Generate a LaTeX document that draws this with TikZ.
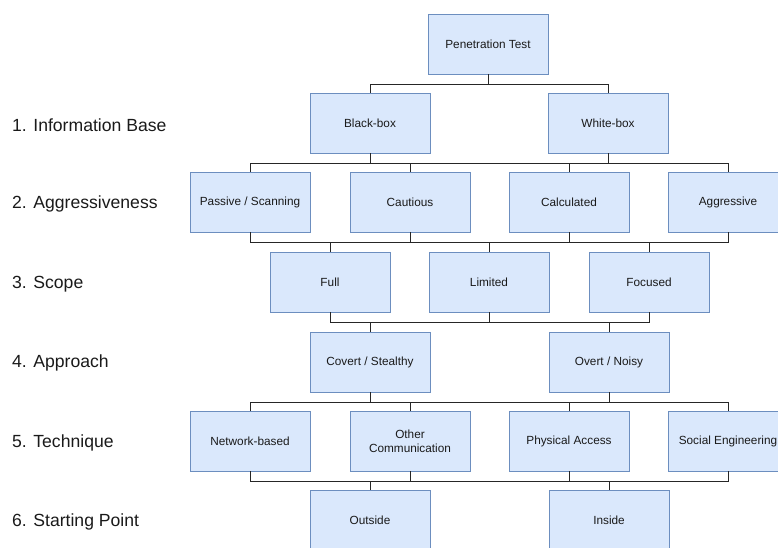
\documentclass[tikz,border=0pt]{standalone}
\usepackage{fontspec}
\setmainfont{Liberation Sans}
\definecolor{ptfill}{RGB}{218,232,252}
\definecolor{ptline}{RGB}{108,142,191}
\definecolor{pttext}{RGB}{26,26,26}

\tikzset{
  ptbox/.style={draw=ptline,fill=ptfill,line width=0.9pt,minimum width=120pt,
    minimum height=60pt,inner sep=0pt,align=center,text=pttext,
    font=\fontsize{11.8}{14}\selectfont},
  ptlevel/.style={anchor=west,text=pttext,inner sep=0pt,font=\fontsize{17.6}{20}\selectfont},
  ptlink/.style={draw=black!85,line width=0.8pt}
}

\begin{document}
\begin{tikzpicture}[x=1pt,y=1pt]
  \useasboundingbox (0,0) rectangle (778,547);
  % levels
  \node[ptlevel] (lv1) at (12,422) {1. Information Base};
  \node[ptlevel] (lv2) at (12,343) {2. Aggressiveness};
  \node[ptlevel] (lv3) at (12,263) {3. Scope};
  \node[ptlevel] (lv4) at (12,184) {4. Approach};
  \node[ptlevel] (lv5) at (12,104) {5. Technique};
  \node[ptlevel] (lv6) at (12,25) {6. Starting Point};
  % boxes
  \node[ptbox] (pt) at (488,503) {Penetration Test};
  \node[ptbox] (black) at (370,424) {Black-box};
  \node[ptbox] (white) at (608,424) {White-box};
  \node[ptbox] (passive) at (250,345) {Passive / Scanning};
  \node[ptbox] (cautious) at (410,345) {Cautious};
  \node[ptbox] (calc) at (569,345) {Calculated};
  \node[ptbox] (aggr) at (728,345) {Aggressive};
  \node[ptbox] (full) at (330,265) {Full};
  \node[ptbox] (limited) at (489,265) {Limited};
  \node[ptbox] (focused) at (649,265) {Focused};
  \node[ptbox] (covert) at (370,185) {Covert / Stealthy};
  \node[ptbox] (overt) at (609,185) {Overt / Noisy};
  \node[ptbox] (network) at (250,106) {Network-based};
  \node[ptbox] (other) at (410,106) {Other\\Communication};
  \node[ptbox] (physical) at (569,106) {Physical Access};
  \node[ptbox] (social) at (728,106) {Social Engineering};
  \node[ptbox] (outside) at (370,27) {Outside};
  \node[ptbox] (inside) at (609,27) {Inside};
  % connectors
  \foreach \a in {pt}
    \foreach \b in {black,white}
      \draw[ptlink] (\a.south) -- ++(0,-10) -| (\b.north);
  \foreach \a in {black,white}
    \foreach \b in {passive,cautious,calc,aggr}
      \draw[ptlink] (\a.south) -- ++(0,-10) -| (\b.north);
  \foreach \a in {passive,cautious,calc,aggr}
    \foreach \b in {full,limited,focused}
      \draw[ptlink] (\a.south) -- ++(0,-10) -| (\b.north);
  \foreach \a in {full,limited,focused}
    \foreach \b in {covert,overt}
      \draw[ptlink] (\a.south) -- ++(0,-10) -| (\b.north);
  \foreach \a in {covert,overt}
    \foreach \b in {network,other,physical,social}
      \draw[ptlink] (\a.south) -- ++(0,-10) -| (\b.north);
  \foreach \a in {network,other,physical,social}
    \foreach \b in {outside,inside}
      \draw[ptlink] (\a.south) -- ++(0,-10) -| (\b.north);
\end{tikzpicture}
\end{document}
